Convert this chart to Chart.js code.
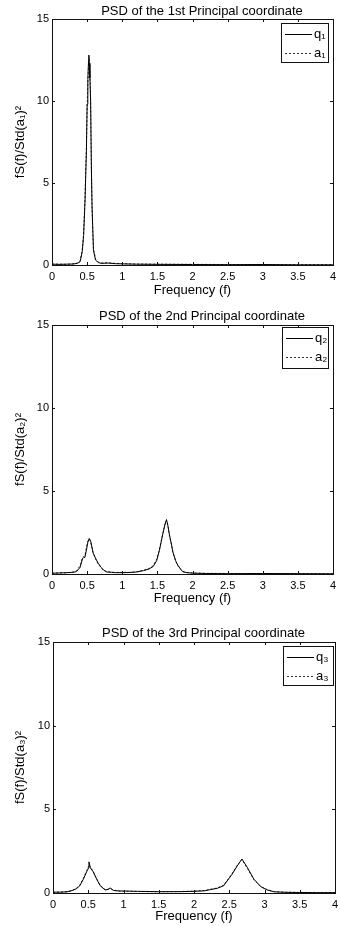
<!DOCTYPE html>
<html>
<head>
<meta charset="utf-8">
<script src="https://cdn.jsdelivr.net/npm/chart.js@4"></script>
<style>
html,body{margin:0;padding:0;background:#fff;width:340px;height:926px;overflow:hidden;}
.p{position:absolute;left:0;width:340px;}
canvas{display:block;}
</style>
</head>
<body>
<div class="p" style="top:0;height:300px"><canvas id="c1" width="340" height="300"></canvas></div>
<div class="p" style="top:300px;height:310px"><canvas id="c2" width="340" height="310"></canvas></div>
<div class="p" style="top:610px;height:316px"><canvas id="c3" width="340" height="316"></canvas></div>
<script>
// ---- tick values ----
const xTicks = [0, 0.5, 1, 1.5, 2, 2.5, 3, 3.5, 4];
const yTicks = [0, 5, 10, 15];

// ---- titles / labels ----
const titles = ["PSD of the 1st Principal coordinate", "PSD of the 2nd Principal coordinate", "PSD of the 3rd Principal coordinate"];
const yLabels = ["fS(f)/Std(a\u2081)\u00B2", "fS(f)/Std(a\u2082)\u00B2", "fS(f)/Std(a\u2083)\u00B2"];
const xLabel = "Frequency (f)";
const seriesNames1 = ["q\u2081", "a\u2081"];
const seriesNames2 = ["q\u2082", "a\u2082"];
const seriesNames3 = ["q\u2083", "a\u2083"];

// ---- panel 1 ----
const freq1 = [0, 0.1, 0.2, 0.3, 0.36, 0.4, 0.43, 0.45, 0.47, 0.49, 0.5, 0.51, 0.52, 0.525, 0.53, 0.54, 0.55, 0.56, 0.57, 0.59, 0.62, 0.66, 0.7, 0.8, 0.9, 1.0, 1.2, 1.5, 2.0, 2.5, 3.0, 3.5, 4.0];
const q1 = [0.05, 0.04, 0.05, 0.06, 0.1, 0.2, 0.8, 1.8, 3.9, 7.0, 9.8, 11.3, 12.4, 12.8, 12.3, 11.4, 10.0, 6.2, 3.6, 0.9, 0.3, 0.15, 0.1, 0.12, 0.08, 0.07, 0.05, 0.04, 0.03, 0.02, 0.03, 0.01, 0.01];
const a1 = [0.06, 0.05, 0.04, 0.07, 0.12, 0.25, 0.9, 1.9, 4.1, 7.3, 9.6, 11.0, 12.2, 12.6, 12.5, 11.6, 9.8, 6.0, 3.4, 1.0, 0.35, 0.18, 0.12, 0.14, 0.1, 0.08, 0.06, 0.05, 0.04, 0.03, 0.03, 0.02, 0.02];

// ---- panel 2 ----
const freq2 = [0, 0.1, 0.2, 0.3, 0.35, 0.4, 0.435, 0.45, 0.468, 0.49, 0.51, 0.53, 0.55, 0.586, 0.62, 0.657, 0.7, 0.73, 0.78, 0.85, 0.9, 1.0, 1.1, 1.2, 1.3, 1.38, 1.44, 1.49, 1.53, 1.58, 1.61, 1.63, 1.65, 1.67, 1.7, 1.72, 1.76, 1.79, 1.83, 1.86, 1.92, 2.0, 2.2, 2.5, 3.0, 3.5, 4.0];
const q2 = [0.05, 0.06, 0.08, 0.1, 0.15, 0.4, 0.94, 0.98, 1.0, 1.44, 1.9, 2.14, 2.0, 1.26, 0.95, 0.65, 0.4, 0.25, 0.12, 0.1, 0.08, 0.08, 0.09, 0.12, 0.2, 0.3, 0.45, 0.8, 1.44, 2.46, 3.0, 3.28, 2.9, 2.4, 1.8, 1.34, 0.8, 0.54, 0.3, 0.14, 0.08, 0.05, 0.03, 0.02, 0.03, 0.02, 0.01];
const a2 = [0.04, 0.07, 0.07, 0.12, 0.2, 0.5, 1.0, 1.05, 1.1, 1.6, 2.0, 2.1, 1.9, 1.3, 0.9, 0.6, 0.38, 0.22, 0.14, 0.11, 0.09, 0.1, 0.1, 0.13, 0.22, 0.33, 0.5, 0.9, 1.5, 2.5, 3.1, 3.22, 2.95, 2.35, 1.75, 1.3, 0.78, 0.5, 0.28, 0.15, 0.09, 0.06, 0.04, 0.03, 0.03, 0.02, 0.02];

// ---- panel 3 ----
const freq3 = [0, 0.1, 0.2, 0.27, 0.33, 0.38, 0.43, 0.48, 0.505, 0.51, 0.53, 0.57, 0.62, 0.67, 0.74, 0.78, 0.81, 0.86, 0.95, 1.0, 1.2, 1.5, 1.8, 2.0, 2.15, 2.23, 2.33, 2.42, 2.54, 2.61, 2.68, 2.76, 2.85, 2.95, 3.04, 3.14, 3.3, 3.5, 3.75, 4.0];
const q3 = [0.05, 0.05, 0.07, 0.15, 0.25, 0.43, 0.82, 1.3, 1.5, 1.86, 1.5, 1.27, 0.82, 0.43, 0.18, 0.22, 0.3, 0.15, 0.12, 0.12, 0.1, 0.08, 0.08, 0.1, 0.13, 0.2, 0.28, 0.43, 1.12, 1.6, 2.03, 1.5, 0.82, 0.37, 0.18, 0.07, 0.04, 0.03, 0.02, 0.02];
const a3 = [0.04, 0.06, 0.08, 0.13, 0.28, 0.47, 0.88, 1.35, 1.6, 1.7, 1.55, 1.3, 0.85, 0.45, 0.2, 0.2, 0.28, 0.16, 0.11, 0.1, 0.09, 0.07, 0.09, 0.11, 0.15, 0.22, 0.3, 0.47, 1.15, 1.65, 2.0, 1.45, 0.8, 0.38, 0.2, 0.08, 0.05, 0.03, 0.03, 0.02];

const FONT = "'Liberation Sans', Arial, Helvetica, sans-serif";

// box + inward tick marks (MATLAB style)
const boxPlugin = {
  id: 'boxTicks',
  afterDatasetsDraw(chart) {
    const ctx = chart.ctx, ca = chart.chartArea;
    const xs = chart.scales.x, ys = chart.scales.y;
    ctx.save();
    ctx.strokeStyle = '#111';
    ctx.lineWidth = 1;
    ctx.setLineDash([]);
    ctx.strokeRect(Math.round(ca.left) + 0.5, Math.round(ca.top) + 0.5, Math.round(ca.right - ca.left), Math.round(ca.bottom - ca.top));
    ctx.beginPath();
    xTicks.forEach(v => {
      const px = Math.round(xs.getPixelForValue(v)) + 0.5;
      ctx.moveTo(px, ca.bottom); ctx.lineTo(px, ca.bottom - 3);
      ctx.moveTo(px, ca.top); ctx.lineTo(px, ca.top + 3);
    });
    yTicks.forEach(v => {
      const py = Math.round(ys.getPixelForValue(v)) + 0.5;
      ctx.moveTo(ca.left, py); ctx.lineTo(ca.left + 3, py);
      ctx.moveTo(ca.right, py); ctx.lineTo(ca.right - 3, py);
    });
    ctx.stroke();
    ctx.restore();
  }
};

// boxed legend inside the top-right of the plot area
const boxLegend = {
  id: 'boxLegend',
  afterDatasetsDraw(chart, args, o) {
    const ctx = chart.ctx, ca = chart.chartArea;
    const x0 = Math.round(ca.right - o.gapRight - o.w), y0 = Math.round(ca.top + o.gapTop);
    ctx.save();
    ctx.fillStyle = '#fff';
    ctx.fillRect(x0, y0, o.w, o.h);
    ctx.strokeStyle = '#111';
    ctx.lineWidth = 1;
    ctx.setLineDash([]);
    ctx.strokeRect(x0 + 0.5, y0 + 0.5, o.w, o.h);
    ctx.font = '13px ' + FONT;
    ctx.textBaseline = 'middle';
    ctx.textAlign = 'left';
    chart.data.datasets.forEach((ds, i) => {
      const y = y0 + 11 + i * 19 + 0.5;
      ctx.strokeStyle = ds.borderColor;
      ctx.setLineDash(ds.borderDash || []);
      ctx.beginPath();
      ctx.moveTo(x0 + 4, y); ctx.lineTo(x0 + 31, y);
      ctx.stroke();
      ctx.fillStyle = '#000';
      ctx.fillText(ds.label, x0 + 33, y);
    });
    ctx.restore();
  }
};

// slide the title block horizontally
const titleShift = {
  id: 'titleShift',
  afterLayout(chart, args, o) {
    const t = chart.titleBlock;
    if (t) { t.left += o.dx; t.right += o.dx; }
  }
};

function pts(f, v) { return f.map((x, i) => ({ x: x, y: v[i] })); }

function build(id, p) {
  return new Chart(document.getElementById(id), {
    type: 'line',
    data: {
      datasets: [
        { label: p.names[0], data: pts(p.freq, p.q), borderColor: '#000', borderWidth: 1, pointRadius: 0, tension: 0, fill: false },
        { label: p.names[1], data: pts(p.freq, p.a), borderColor: '#333', borderWidth: 1, borderDash: [2, 2], pointRadius: 0, tension: 0, fill: false }
      ]
    },
    options: {
      responsive: false,
      animation: false,
      events: [],
      layout: { padding: { left: 0, right: 340 - p.right, top: p.padTop, bottom: 0 } },
      plugins: {
        legend: { display: false },
        tooltip: { enabled: false },
        title: {
          display: true, text: p.title, fullSize: false, color: '#000',
          font: { family: FONT, size: 13, weight: 'normal', lineHeight: 1.2 },
          padding: { top: 0, bottom: p.titlePadBottom }
        },
        boxLegend: p.legend,
        titleShift: { dx: p.titleDx }
      },
      scales: {
        x: {
          type: 'linear', min: 0, max: 4,
          afterBuildTicks: s => { s.ticks = xTicks.map(v => ({ value: v })); },
          afterFit: s => { s.height = p.h - p.bottom; s.paddingLeft = 0; s.paddingRight = 0; },
          ticks: { padding: 5, color: '#000', font: { family: FONT, size: 11 }, maxRotation: 0, autoSkip: false, callback: v => String(v) },
          grid: { display: false, drawTicks: false },
          border: { display: false },
          title: { display: true, text: xLabel, color: '#000', font: { family: FONT, size: 13, lineHeight: 1.2 }, padding: { top: 0, bottom: p.xlPad } }
        },
        y: {
          type: 'linear', min: 0, max: 15,
          afterBuildTicks: s => { s.ticks = yTicks.map(v => ({ value: v })); },
          afterFit: s => { s.width = p.left; s.paddingTop = 0; s.paddingBottom = 0; },
          ticks: { padding: 3, color: '#000', font: { family: FONT, size: 11 }, callback: v => String(v) },
          grid: { display: false, drawTicks: false },
          border: { display: false },
          title: { display: true, text: p.ylabel, color: '#000', font: { family: FONT, size: 13, lineHeight: 1.2 }, padding: { top: p.ylPad, bottom: 0 } }
        }
      }
    },
    plugins: [boxPlugin, boxLegend, titleShift]
  });
}

build('c1', { h: 300, left: 52, right: 333, bottom: 265, padTop: 3.2, titlePadBottom: 0.2, xlPad: 2.2, ylPad: 12.2, titleDx: 9.5,
  title: titles[0], ylabel: yLabels[0], names: seriesNames1, freq: freq1, q: q1, a: a1,
  legend: { w: 47, h: 39, gapRight: 5, gapTop: 4 } });
build('c2', { h: 310, left: 52, right: 333, bottom: 274, padTop: 8.2, titlePadBottom: 1.2, xlPad: 4.2, ylPad: 12.2, titleDx: 9.5,
  title: titles[1], ylabel: yLabels[1], names: seriesNames2, freq: freq2, q: q2, a: a2,
  legend: { w: 46, h: 41, gapRight: 5, gapTop: 2 } });
build('c3', { h: 316, left: 53, right: 335, bottom: 283, padTop: 15.2, titlePadBottom: 1.2, xlPad: 1.7, ylPad: 13, titleDx: 9.5,
  title: titles[2], ylabel: yLabels[2], names: seriesNames3, freq: freq3, q: q3, a: a3,
  legend: { w: 50, h: 39, gapRight: 2, gapTop: 4 } });
</script>
</body>
</html>
